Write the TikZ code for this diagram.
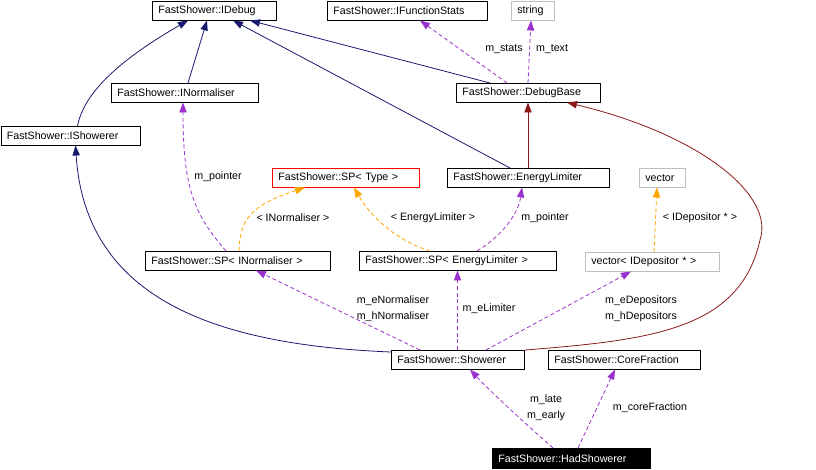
\documentclass[tikz,border=0pt]{standalone}
\usepackage{fontspec}
\setmainfont{Liberation Sans}
\usepackage{tikz}
\usepackage{xcolor}
\usetikzlibrary{calc,arrows.meta}
\definecolor{inhblue}{HTML}{191970}
\definecolor{usepurple}{HTML}{9A32CD}
\definecolor{tplorange}{HTML}{FFA500}
\definecolor{basered}{HTML}{8B1A1A}
\definecolor{boxgray}{HTML}{BFBFBF}

\begin{document}
\begin{tikzpicture}[x=0.75pt, y=-0.75pt,
    font=\fontsize{8}{9.6}\selectfont,
    cls/.style={draw=black, line width=0.6pt, anchor=north west, inner xsep=4.5pt, inner ysep=0pt, minimum height=14pt, align=left},
    lbl/.style={inner sep=0pt, align=center, font=\fontsize{8}{12}\selectfont},
    inh/.style={inhblue, line width=0.6pt, -{Triangle[length=7.5pt, width=5.5pt]}},
    inhred/.style={basered, line width=0.6pt, -{Triangle[length=7.5pt, width=5.5pt]}},
    uses/.style={usepurple, line width=0.6pt, dash pattern=on 3pt off 2pt, -{Triangle[length=7.5pt, width=5.5pt]}},
    tpl/.style={tplorange, line width=0.6pt, dash pattern=on 3pt off 2pt, -{Triangle[length=7.5pt, width=5.5pt]}}]
    \useasboundingbox (0,0) rectangle (816,469);

    % Top row
    \node[cls, text width=84pt] (IDebug) at (152,1) {FastShower::IDebug};
    \node[cls, text width=111pt] (IFunctionStats) at (327,1) {FastShower::IFunctionStats};
    \node[cls, draw=boxgray, text width=23.25pt] (String) at (511,1) {string};

    % Interfaces and base
    \node[cls, text width=101.25pt] (INormaliser) at (111,83) {FastShower::INormaliser};
    \node[cls, text width=99pt] (DebugBase) at (456,83) {FastShower::DebugBase};
    \node[cls, text width=95.25pt] (IShowerer) at (0.5,126) {FastShower::IShowerer};

    % Templates
    \node[cls, draw=red, text width=101.25pt] (SPType) at (272,168) {FastShower::SP< Type >};
    \node[cls, text width=112.5pt] (EnergyLimiter) at (447,168) {FastShower::EnergyLimiter};
    \node[cls, draw=boxgray, text width=25.5pt] (Vector) at (639,168) {vector};
    \node[cls, text width=129.75pt] (SPINorm) at (145,251) {FastShower::SP< INormaliser >};
    \node[cls, text width=138.75pt] (SPELim) at (359,251) {FastShower::SP< EnergyLimiter >};
    \node[cls, draw=boxgray, text width=91.5pt] (VecDep) at (585,252) {vector< IDepositor * >};

    % Showerers
    \node[cls, text width=90.75pt] (Showerer) at (391,350) {FastShower::Showerer};
    \node[cls, text width=105pt] (CoreFraction) at (548,350) {FastShower::CoreFraction};
    \node[cls, fill=black, text=white, minimum height=15pt, text width=109.5pt] (HadShowerer) at (492,448) {FastShower::HadShowerer};

    % Inheritance
    \draw[inh] ($(IShowerer.north west)+(77,0)$) .. controls +(6,-31) and +(-73,42) .. ($(IDebug.south west)+(36,0)$);
    \draw[inh] ($(INormaliser.north west)+(77,0)$) -- ($(IDebug.south west)+(55,0)$);
    \draw[inh] ($(EnergyLimiter.north west)+(63,0)$) -- ($(IDebug.south west)+(81,0)$);
    \draw[inh] ($(DebugBase.north west)+(34,0)$) -- ($(IDebug.south west)+(98,0)$);
    \draw[inh] ($(Showerer.north west)+(0,2)$) .. controls +(-171,-7) and +(10,156) .. ($(IShowerer.south west)+(75,0)$);
    \draw[inhred] ($(EnergyLimiter.north west)+(81,0)$) -- ($(DebugBase.south west)+(72,0)$);
    \coordinate (bend) at (760,240);
    \draw[inhred] (Showerer.north east) .. controls +(126,-10) and +(-20,90) .. (bend)
        .. controls +(15,-45) and +(133,32) .. ($(DebugBase.south west)+(111,0)$);

    % Members
    \draw[uses] ($(DebugBase.north west)+(51,0)$) -- ($(IFunctionStats.south west)+(93,0)$);
    \draw[uses] ($(DebugBase.north west)+(72,0)$) -- ($(String.south west)+(20,0)$);
    \node[lbl] (lStats) at (504,49) {m\_stats};
    \node[lbl] (lText) at (552,49) {m\_text};

    \draw[uses] ($(SPINorm.north west)+(81,0)$) .. controls +(-31,-36) and +(0,88) .. ($(INormaliser.south west)+(72,0)$);
    \node[lbl] (lPtrA) at (218,177) {m\_pointer};
    \draw[uses] ($(SPELim.north west)+(118,0)$) .. controls +(23,-14) and +(-4,28) .. ($(EnergyLimiter.south west)+(75,0)$);
    \node[lbl] (lPtrB) at (545,218) {m\_pointer};

    % Template instances
    \draw[tpl] ($(SPINorm.north west)+(94,0)$) .. controls +(1,-31) and +(-55,18) .. ($(SPType.south west)+(33,0)$);
    \node[lbl] (lINorm) at (293,218) {< INormaliser >};
    \draw[tpl] ($(SPELim.north west)+(71,0)$) .. controls +(-35,-11) and +(16,28) .. ($(SPType.south west)+(82,0)$);
    \node[lbl] (lELim) at (433,218) {< EnergyLimiter >};
    \draw[tpl] ($(VecDep.north west)+(69,0)$) -- ($(Vector.south west)+(18,0)$);
    \node[lbl] (lIDep) at (700,218) {< IDepositor * >};

    % Showerer members
    \draw[uses] ($(Showerer.north west)+(29,0)$) -- ($(SPINorm.south west)+(111,0)$);
    \node[lbl] (lNorm) at (393,309) {m\_eNormaliser\\m\_hNormaliser};
    \draw[uses] ($(Showerer.north west)+(66.5,0)$) -- ($(SPELim.south west)+(98.5,0)$);
    \node[lbl] (lLim) at (489,309) {m\_eLimiter};
    \draw[uses] ($(Showerer.north west)+(95,0)$) -- ($(VecDep.south west)+(46,0)$);
    \node[lbl] (lDep) at (641,309) {m\_eDepositors\\m\_hDepositors};

    % HadShowerer members
    \draw[uses] ($(HadShowerer.north west)+(61,0)$) .. controls +(-18,-16) and +(25,27) .. ($(Showerer.south west)+(79,0)$);
    \node[lbl] (lEarly) at (546,408) {m\_late\\m\_early};
    \draw[uses] ($(HadShowerer.north west)+(86,0)$) -- ($(CoreFraction.south west)+(67,0)$);
    \node[lbl] (lCore) at (650,408) {m\_coreFraction};
\end{tikzpicture}
\end{document}
